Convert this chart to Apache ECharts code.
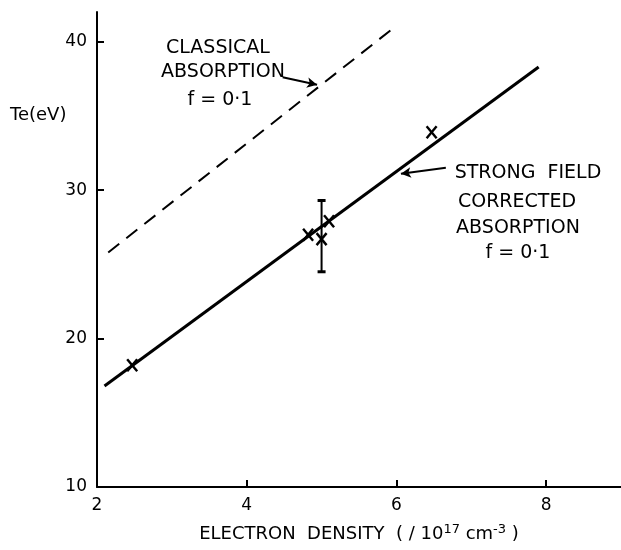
<!DOCTYPE html>
<html>
<head>
<meta charset="utf-8">
<script src="https://cdn.jsdelivr.net/npm/echarts@6/dist/echarts.min.js"></script>
<style>
  html, body { margin: 0; padding: 0; background: #fff; }
  #chart { width: 621px; height: 550px; }
</style>
</head>
<body>
<div id="chart"></div>
<script>
// Fitted temperature lines (end points, electron density in 1e17 cm^-3, Te in eV)
const strongFieldX = [2.1, 7.9];
const strongFieldY = [16.8, 38.3];
const classicalX = [2.15, 5.93];
const classicalY = [25.8, 40.8];

// Measured points
const measuredX = [2.47, 4.82, 5.0, 5.1, 6.47];
const measuredY = [18.2, 27.0, 26.7, 27.9, 33.9];

// Error bar on the point at n = 5
const errX = [5.0];
const errLow = [24.5];
const errHigh = [29.3];

// Axis ticks
const xTicks = [2, 4, 6, 8];
const yTicks = [10, 20, 30, 40];

// Annotation arrows (data coordinates: tail, head)
const classicalArrow = [[4.48, 37.6], [4.94, 37.1]];
const strongArrow = [[6.66, 31.5], [6.06, 31.1]];

const FONT = 'DejaVu Sans';
const INK = '#000';

const chart = echarts.init(document.getElementById('chart'), null, { renderer: 'canvas' });

const annoText = (txt, x, y) => ({
  type: 'text', x: x, y: y,
  style: { text: txt, fill: INK, font: '19px "' + FONT + '"', textAlign: 'center', textVerticalAlign: 'middle' }
});

chart.setOption({
  animation: false,
  backgroundColor: '#fff',
  grid: { left: 97, right: 0, top: 12, bottom: 63 },
  xAxis: {
    type: 'value', min: 2, max: 9, interval: 2,
    splitLine: { show: false },
    axisLine: { lineStyle: { color: INK, width: 2 } },
    axisTick: { inside: true, length: 7, lineStyle: { color: INK, width: 2 }, customValues: xTicks },
    axisLabel: { color: INK, fontFamily: FONT, fontSize: 17, margin: 10, customValues: xTicks },
    name: 'ELECTRON  DENSITY  ( / 10{s|17} cm{s|-3} )',
    nameLocation: 'middle', nameGap: 36,
    nameTextStyle: {
      color: INK, fontFamily: FONT, fontSize: 18,
      rich: { s: { fontFamily: FONT, fontSize: 13, verticalAlign: 'bottom', padding: [0, 0, 10, 0], color: INK } }
    }
  },
  yAxis: {
    type: 'value', min: 10, max: 42, interval: 10,
    splitLine: { show: false },
    axisLine: { lineStyle: { color: INK, width: 2 } },
    axisTick: { inside: true, length: 7, lineStyle: { color: INK, width: 2 }, customValues: yTicks },
    axisLabel: { color: INK, fontFamily: FONT, fontSize: 17, margin: 10, customValues: yTicks }
  },
  graphic: [
    { type: 'text', x: 10, y: 115,
      style: { text: 'Te(eV)', fill: INK, font: '18px "' + FONT + '"', textAlign: 'left', textVerticalAlign: 'middle' } },
    annoText('CLASSICAL', 218, 48),
    annoText('ABSORPTION', 223, 72),
    annoText('f = 0·1', 220, 100),
    annoText('STRONG  FIELD', 528, 173),
    annoText('CORRECTED', 517, 202),
    annoText('ABSORPTION', 518, 228),
    annoText('f = 0·1', 518, 253)
  ],
  series: [
    {
      type: 'line', name: 'classical',
      data: classicalX.map((x, i) => [x, classicalY[i]]),
      symbol: 'none', silent: true,
      lineStyle: { color: INK, width: 2, type: [14, 9] },
      markLine: {
        silent: true, symbol: ['none', 'arrow'], symbolSize: [8, 10],
        lineStyle: { color: INK, width: 2, type: 'solid' }, label: { show: false },
        data: [[{ coord: classicalArrow[0] }, { coord: classicalArrow[1] }]]
      }
    },
    {
      type: 'line', name: 'strong field',
      data: strongFieldX.map((x, i) => [x, strongFieldY[i]]),
      symbol: 'none', silent: true,
      lineStyle: { color: INK, width: 3 },
      markLine: {
        silent: true, symbol: ['none', 'arrow'], symbolSize: [8, 10],
        lineStyle: { color: INK, width: 2, type: 'solid' }, label: { show: false },
        data: [[{ coord: strongArrow[0] }, { coord: strongArrow[1] }]]
      }
    },
    {
      type: 'custom', name: 'error bar',
      data: errX.map((x, i) => [x, errLow[i], errHigh[i]]),
      renderItem: (params, api) => {
        const lo = api.coord([api.value(0), api.value(1)]);
        const hi = api.coord([api.value(0), api.value(2)]);
        const cap = 4;
        const st = { stroke: INK, lineWidth: 2 };
        return {
          type: 'group', children: [
            { type: 'line', shape: { x1: lo[0], y1: lo[1], x2: hi[0], y2: hi[1] }, style: st },
            { type: 'line', shape: { x1: lo[0] - cap, y1: lo[1], x2: lo[0] + cap, y2: lo[1] }, style: { stroke: INK, lineWidth: 3 } },
            { type: 'line', shape: { x1: hi[0] - cap, y1: hi[1], x2: hi[0] + cap, y2: hi[1] }, style: { stroke: INK, lineWidth: 3 } }
          ]
        };
      }
    },
    {
      type: 'custom', name: 'measured',
      data: measuredX.map((x, i) => [x, measuredY[i]]),
      renderItem: (params, api) => {
        const p = api.coord([api.value(0), api.value(1)]);
        const hx = 5, hy = 6;
        const st = { stroke: INK, lineWidth: 2.4 };
        return {
          type: 'group', children: [
            { type: 'line', shape: { x1: p[0] - hx, y1: p[1] - hy, x2: p[0] + hx, y2: p[1] + hy }, style: st },
            { type: 'line', shape: { x1: p[0] + hx, y1: p[1] - hy, x2: p[0] - hx, y2: p[1] + hy }, style: st }
          ]
        };
      }
    }
  ]
});
</script>
</body>
</html>
